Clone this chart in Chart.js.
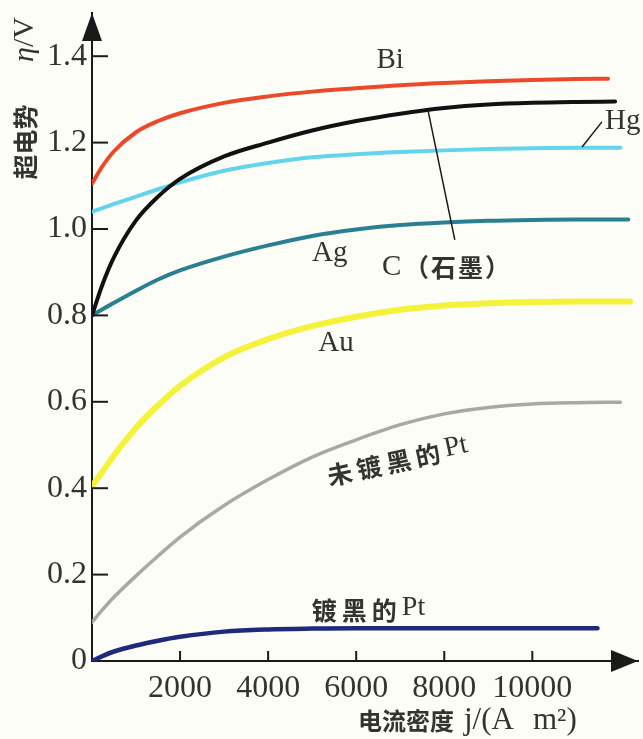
<!DOCTYPE html>
<html>
<head>
<meta charset="utf-8">
<script src="https://cdn.jsdelivr.net/npm/chart.js@4.4.1/dist/chart.umd.min.js"></script>
<style>
  html, body { margin: 0; padding: 0; background: #fdfdf8; }
  #wrap { width: 643px; height: 739px; position: relative; }
</style>
</head>
<body>
<div id="wrap"><canvas id="chart"></canvas></div>
<script>
// current density j (A/m2) sample points, shared by every curve
const jValues = [0, 250, 500, 1000, 1500, 2000, 3000, 4000, 5000, 6000, 7000, 8000, 9000, 10000, 11000];

// overpotential eta (V) per electrode
const biEta   = [1.105, 1.147, 1.180, 1.224, 1.250, 1.268, 1.292, 1.307, 1.318, 1.326, 1.333, 1.338, 1.342, 1.345, 1.347];
const cEta    = [0.800, 0.875, 0.935, 1.020, 1.075, 1.116, 1.168, 1.200, 1.228, 1.250, 1.267, 1.280, 1.288, 1.292, 1.294];
const hgEta   = [1.040, 1.049, 1.058, 1.075, 1.092, 1.108, 1.135, 1.153, 1.166, 1.173, 1.178, 1.182, 1.185, 1.187, 1.188];
const agEta   = [0.800, 0.815, 0.829, 0.857, 0.883, 0.904, 0.936, 0.962, 0.984, 0.999, 1.009, 1.015, 1.019, 1.021, 1.022];
const auEta   = [0.405, 0.440, 0.476, 0.540, 0.592, 0.637, 0.703, 0.745, 0.775, 0.797, 0.813, 0.823, 0.828, 0.831, 0.832];
const ptEta   = [0.090, 0.120, 0.148, 0.197, 0.243, 0.287, 0.360, 0.420, 0.472, 0.512, 0.547, 0.572, 0.587, 0.595, 0.598];
const ptBlEta = [0.000, 0.012, 0.022, 0.036, 0.047, 0.056, 0.068, 0.073, 0.075, 0.076, 0.076, 0.076, 0.076, 0.076, 0.076];

// where each curve stops on the right
const endJ   = [11720, 11880, 12000, 12180, 12220, 12000, 11480];
const endEta = [1.348, 1.295, 1.188, 1.022, 0.832, 0.599, 0.076];

const xTicks = [2000, 4000, 6000, 8000, 10000];
const yTicks = [0, 0.2, 0.4, 0.6, 0.8, 1.0, 1.2, 1.4];

const axisColor = "#1a1a1a";
const textColor = "#333330";
const serif = "'Liberation Serif', 'Times New Roman', serif";
const cjk = "'Noto Sans CJK SC', sans-serif";

function curve(eta, k) {
  const pts = jValues.map((j, i) => ({ x: j, y: eta[i] }));
  pts.push({ x: endJ[k], y: endEta[k] });
  return pts;
}

const series = [
  { label: "Bi", eta: biEta, color: "#ea4a2a", width: 4 },
  { label: "C", eta: cEta, color: "#111111", width: 4 },
  { label: "Hg", eta: hgEta, color: "#62d4ec", width: 4 },
  { label: "Ag", eta: agEta, color: "#2b7f93", width: 4 },
  { label: "Au", eta: auEta, color: "#f4f23a", width: 6 },
  { label: "未镀黑的Pt", eta: ptEta, color: "#a9a9a2", width: 3.5 },
  { label: "镀黑的Pt", eta: ptBlEta, color: "#1f2a7c", width: 4.5 },
];

function line(ctx, x1, y1, x2, y2) {
  ctx.beginPath();
  ctx.moveTo(x1, y1);
  ctx.lineTo(x2, y2);
  ctx.stroke();
}

const decor = {
  id: "decor",
  afterDatasetsDraw(chart) {
    const { ctx, chartArea: a } = chart;
    const x = chart.scales.x, y = chart.scales.y;
    ctx.save();

    // inward tick marks
    ctx.strokeStyle = axisColor;
    ctx.lineWidth = 2;
    yTicks.forEach((v) => {
      if (v === 0) return;
      const py = y.getPixelForValue(v);
      line(ctx, a.left, py, a.left + 16, py);
    });
    xTicks.forEach((v) => {
      const px = x.getPixelForValue(v);
      line(ctx, px, a.bottom, px, a.bottom - 10);
    });

    // arrow heads
    ctx.fillStyle = axisColor;
    ctx.beginPath();
    ctx.moveTo(a.left, a.top);
    ctx.lineTo(a.left - 10, a.top + 28);
    ctx.lineTo(a.left + 10, a.top + 28);
    ctx.closePath();
    ctx.fill();
    ctx.beginPath();
    ctx.moveTo(a.right, a.bottom);
    ctx.lineTo(a.right - 27, a.bottom - 11);
    ctx.lineTo(a.right - 27, a.bottom + 11);
    ctx.closePath();
    ctx.fill();

    // leader lines for C and Hg
    ctx.lineWidth = 1.5;
    line(ctx, x.getPixelForValue(8240), y.getPixelForValue(0.975), x.getPixelForValue(7630), y.getPixelForValue(1.275));
    line(ctx, x.getPixelForValue(11130), y.getPixelForValue(1.19), x.getPixelForValue(11580), y.getPixelForValue(1.248));

    // curve labels
    ctx.fillStyle = textColor;
    ctx.textBaseline = "middle";
    const latin = (t, j, e, align) => {
      ctx.font = "29px " + serif;
      ctx.textAlign = align || "center";
      ctx.fillText(t, x.getPixelForValue(j), y.getPixelForValue(e));
    };
    latin("Bi", 6770, 1.391);
    latin("Hg", 11650, 1.25, "left");
    latin("Ag", 5400, 0.944);
    latin("Au", 5540, 0.736);

    // C (graphite)
    let px = x.getPixelForValue(6586), py = y.getPixelForValue(0.91);
    ctx.font = "29px " + serif;
    ctx.textAlign = "left";
    ctx.fillText("C", px, py);
    ctx.font = "bold 25px " + cjk;
    ["（", "石", "墨", "）"].forEach((ch, i) => ctx.fillText(ch, px + 22 + i * 27, py));

    // plated / unplated Pt
    const ptLabel = (cn, j, e, angle) => {
      ctx.save();
      ctx.translate(x.getPixelForValue(j), y.getPixelForValue(e));
      ctx.rotate(angle);
      const pitch = 30;
      const w1 = cn.length * pitch;
      ctx.font = "28px " + serif;
      const w2 = ctx.measureText("Pt").width;
      const sx = -(w1 + w2) / 2;
      ctx.textAlign = "left";
      ctx.font = "bold 25px " + cjk;
      [...cn].forEach((ch, i) => ctx.fillText(ch, sx + i * pitch, 0));
      ctx.font = "28px " + serif;
      ctx.fillText("Pt", sx + w1, -2);
      ctx.restore();
    };
    ptLabel("未镀黑的", 6940, 0.462, -0.21);
    ptLabel("镀黑的", 6280, 0.118, 0);

    // axis titles
    ctx.textAlign = "center";
    ctx.save();
    ctx.translate(25, 142);
    ctx.rotate(-Math.PI / 2);
    ctx.font = "bold 25px " + cjk;
    ctx.fillText("超电势", 0, 0);
    ctx.restore();
    ctx.save();
    ctx.translate(25, 40);
    ctx.rotate(-Math.PI / 2);
    ctx.textAlign = "left";
    ctx.font = "italic 30px " + serif;
    const etaW = ctx.measureText("η").width;
    ctx.fillText("η", -22, 0);
    ctx.font = "30px " + serif;
    ctx.fillText("/V", -22 + etaW, 0);
    ctx.restore();

    ctx.textAlign = "left";
    ctx.font = "bold 24px " + cjk;
    ctx.fillText("电流密度", 358, 721);
    ctx.font = "31px " + serif;
    ctx.fillText("j/(A", 464, 721);
    ctx.fillText("m²)", 533, 721);

    ctx.restore();
  },
};

new Chart(document.getElementById("chart"), {
  type: "line",
  data: {
    datasets: series.map((s, k) => ({
      label: s.label,
      data: curve(s.eta, k),
      borderColor: s.color,
      borderWidth: s.width,
      pointRadius: 0,
      fill: false,
      cubicInterpolationMode: "monotone",
      borderCapStyle: "round",
    })),
  },
  options: {
    responsive: true,
    maintainAspectRatio: false,
    animation: false,
    events: [],
    layout: { padding: { top: 13, right: 5, left: 0, bottom: 0 } },
    plugins: {
      legend: { display: false },
      title: { display: false },
      tooltip: { enabled: false },
    },
    scales: {
      x: {
        type: "linear",
        min: 0,
        max: 12400,
        grid: { display: false, drawTicks: false },
        border: { display: true, color: axisColor, width: 2 },
        afterBuildTicks: (scale) => {
          scale.ticks = xTicks.map((v) => ({ value: v }));
        },
        afterFit: (scale) => {
          scale.height = 78;
          scale.paddingLeft = 0;
          scale.paddingRight = 0;
        },
        ticks: {
          color: textColor,
          font: { family: serif, size: 32 },
          padding: 8,
          maxRotation: 0,
          autoSkip: false,
          callback: (v) => String(v),
        },
      },
      y: {
        type: "linear",
        min: 0,
        max: 1.5,
        grid: { display: false, drawTicks: false },
        border: { display: true, color: axisColor, width: 2 },
        afterBuildTicks: (scale) => {
          scale.ticks = yTicks.map((v) => ({ value: v }));
        },
        afterFit: (scale) => {
          scale.width = 92;
          scale.paddingTop = 0;
          scale.paddingBottom = 0;
        },
        ticks: {
          color: textColor,
          font: { family: serif, size: 32 },
          padding: 5,
          autoSkip: false,
          callback: (v) => (v === 0 ? "0" : v.toFixed(1)),
        },
      },
    },
  },
  plugins: [decor],
});
</script>
</body>
</html>
